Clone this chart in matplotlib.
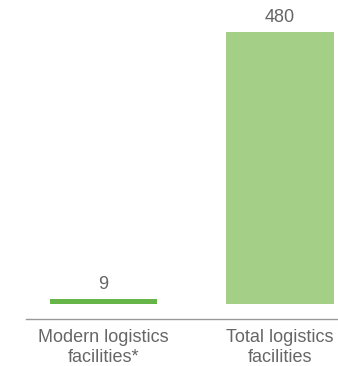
import matplotlib.pyplot as plt

categories = ['Modern logistics\nfacilities*', 'Total logistics\nfacilities']
values = [9, 480]
colors = ['#66b548', '#a3cf86']

plt.rcParams['font.family'] = ['Liberation Sans', 'DejaVu Sans']

fig = plt.figure(figsize=(3.38, 3.66), dpi=100)
ax = fig.add_axes([26 / 338, 47 / 366, 312 / 338, 319 / 366])

x = [0, 1]
bars = ax.bar(x, values, width=0.61, color=colors)

for xi, v in zip(x, values):
    ax.text(xi, v + 11, str(v), ha='center', va='bottom', fontsize=13, color='#666666')

ax.set_xlim(-0.44, 1.33)
ax.set_ylim(-26.5, 536)
ax.set_xticks(x)
ax.set_xticklabels(categories, fontsize=13, color='#666666', linespacing=1.2)
ax.tick_params(axis='x', length=0, pad=7.5)
ax.set_yticks([])

for s in ['top', 'right', 'left']:
    ax.spines[s].set_visible(False)
ax.spines['bottom'].set_color('#999999')
ax.spines['bottom'].set_linewidth(1)

fig.savefig('out.png', dpi=100)
